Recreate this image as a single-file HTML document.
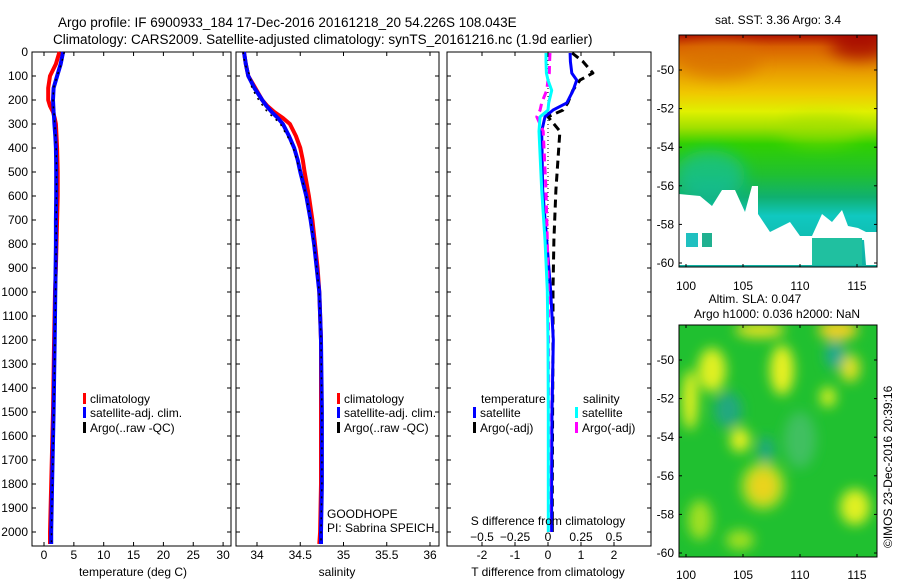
<!DOCTYPE html>
<html><head><meta charset="utf-8"><style>
html,body{margin:0;padding:0;background:#fff;width:900px;height:580px;overflow:hidden}
svg text{font-family:"Liberation Sans",sans-serif;fill:#000}
</style></head><body>
<svg id="fig" width="900" height="580" viewBox="0 0 900 580" xmlns="http://www.w3.org/2000/svg">
<defs>
<linearGradient id="sstg" x1="0" y1="0" x2="0" y2="1">
<stop offset="0" stop-color="#b01000"/><stop offset="0.05" stop-color="#d86000"/><stop offset="0.15" stop-color="#e89800"/><stop offset="0.25" stop-color="#f0c800"/><stop offset="0.33" stop-color="#e0f000"/><stop offset="0.4" stop-color="#a0e000"/><stop offset="0.47" stop-color="#30d000"/><stop offset="0.6" stop-color="#20c030"/><stop offset="0.7" stop-color="#10b070"/><stop offset="0.78" stop-color="#10c8c0"/><stop offset="1" stop-color="#10b0a0"/>
</linearGradient>
<filter id="blur"><feGaussianBlur stdDeviation="6"/></filter>
<filter id="blur2"><feGaussianBlur stdDeviation="8"/></filter>
<clipPath id="m1clip"><rect x="679" y="35" width="198" height="232"/></clipPath>
<clipPath id="m2clip"><rect x="679" y="325" width="198" height="232"/></clipPath>
</defs>
<text x="58" y="27" font-size="13.5">Argo profile: IF 6900933_184 17-Dec-2016 20161218_20 54.226S 108.043E</text>
<text x="53" y="44" font-size="13.5">Climatology: CARS2009. Satellite-adjusted climatology: synTS_20161216.nc (1.9d earlier)</text>
<g id="p1"></g>
<g id="p2"></g>
<g id="p3"></g>
<g id="m1">
<rect x="679" y="35" width="198" height="232" fill="url(#sstg)"/>
<g clip-path="url(#m1clip)" filter="url(#blur2)">
<ellipse cx="720" cy="60" rx="40" ry="18" fill="#d87000" opacity="0.7"/>
<ellipse cx="860" cy="45" rx="30" ry="14" fill="#a00000" opacity="0.8"/>
<ellipse cx="710" cy="175" rx="35" ry="25" fill="#10c0b0" opacity="0.6"/>
<ellipse cx="820" cy="130" rx="40" ry="15" fill="#a0e000" opacity="0.5"/>
</g>
<polygon fill="#fff" points="679,194 700,196 712,206 722,190 735,190 745,212 752,186 758,186 758,214 770,232 790,222 800,236 812,236 812,265 679,265"/>
<polygon fill="#fff" points="812,236 822,214 832,222 842,210 848,226 858,228 866,232 877,232 877,265 866,265 864,240 812,238"/>
<rect x="686" y="233" width="12" height="14" fill="#20c0c0"/>
<rect x="702" y="233" width="10" height="14" fill="#20b090"/>
<rect x="812" y="238" width="50" height="27" fill="#20c0a0"/>
</g>
<g id="m2">
<rect x="679" y="325" width="198" height="232" fill="#20c030"/>
<g clip-path="url(#m2clip)" filter="url(#blur)">
<ellipse cx="763" cy="486" rx="14" ry="16" fill="#f0a020"/>
<ellipse cx="763" cy="486" rx="22" ry="24" fill="#e8e820" opacity="0.7"/>
<ellipse cx="740" cy="440" rx="10" ry="12" fill="#e8f020"/>
<ellipse cx="782" cy="370" rx="12" ry="25" fill="#e8f020"/>
<ellipse cx="712" cy="370" rx="14" ry="22" fill="#e0f020"/>
<ellipse cx="690" cy="400" rx="8" ry="30" fill="#e0f020"/>
<ellipse cx="800" cy="440" rx="16" ry="28" fill="#40c060"/>
<ellipse cx="850" cy="368" rx="10" ry="14" fill="#e0e020"/>
<ellipse cx="838" cy="330" rx="20" ry="10" fill="#f0d020"/>
<ellipse cx="760" cy="330" rx="25" ry="8" fill="#e0e020"/>
<ellipse cx="728" cy="410" rx="14" ry="18" fill="#20a880"/>
<ellipse cx="766" cy="450" rx="8" ry="14" fill="#20a880"/>
<ellipse cx="835" cy="355" rx="10" ry="14" fill="#20a890"/>
<ellipse cx="855" cy="507" rx="15" ry="18" fill="#e0f020"/>
<ellipse cx="828" cy="397" rx="8" ry="10" fill="#d8f020"/>
<ellipse cx="700" cy="520" rx="12" ry="20" fill="#a0e020"/>
<ellipse cx="740" cy="540" rx="14" ry="10" fill="#a0e020"/>
</g>
</g>
<text x="778" y="24" font-size="12" text-anchor="middle">sat. SST: 3.36 Argo: 3.4</text>
<text x="755" y="303" font-size="12" text-anchor="middle">Altim. SLA: 0.047</text>
<text x="777" y="318" font-size="12" text-anchor="middle">Argo h1000: 0.036 h2000: NaN</text>
<text transform="translate(892,548) rotate(-90)" font-size="12">©IMOS 23-Dec-2016 20:39:16</text>
</svg>
<script>
// depth grid (m)
const depths=[0,50,100,150,200,225,250,275,300,350,400,450,500,600,700,800,900,1000,1200,1500,1800,2000,2050];
// temperature (deg C)
const tempClim=[2.6,2.0,1.0,0.7,0.7,1.0,1.5,1.8,2.0,2.1,2.2,2.25,2.3,2.3,2.2,2.1,2.0,1.85,1.7,1.5,1.2,1.0,1.0];
const tempSat=[3.2,2.8,2.2,1.6,1.5,1.55,1.6,1.7,1.75,1.9,2.0,2.03,2.05,2.05,2.0,2.0,1.95,1.9,1.8,1.6,1.35,1.2,1.2];
const tempArgo=[3.4,2.9,2.2,1.6,1.5,1.55,1.65,1.75,1.8,1.95,2.05,2.08,2.1,2.1,2.05,2.05,2.0,1.95,1.85,1.65,1.4,1.25,1.25];
// salinity
const salClim=[33.85,33.87,33.9,33.98,34.06,34.12,34.2,34.3,34.38,34.45,34.5,34.53,34.55,34.6,34.64,34.67,34.7,34.72,34.74,34.74,34.74,34.73,34.72];
const salSat=[33.85,33.87,33.9,33.97,34.06,34.11,34.17,34.24,34.3,34.37,34.43,34.47,34.5,34.57,34.62,34.66,34.69,34.72,34.74,34.75,34.75,34.74,34.74];
const salArgo=[33.84,33.86,33.92,33.94,34.02,34.07,34.12,34.2,34.27,34.35,34.42,34.46,34.5,34.57,34.62,34.66,34.69,34.72,34.74,34.75,34.75,34.74,34.74];
// differences
const diffDepths=[4,40,88,117,160,212,242,270,330,575,783,992,1200,1500,1800,2000];
const tDiffSat=[0.67,0.68,0.72,0.87,0.76,0.57,0.15,-0.09,-0.19,-0.16,-0.04,0.08,0.16,0.12,0.11,0.11];
const tDiffArgo=[0.73,1.06,1.36,0.97,0.75,0.6,0.45,0.0,0.36,0.24,0.18,0.15,0.15,0.14,0.13,0.13];
const sDiffSat=[-0.015,-0.015,-0.012,0.0,0.028,0.005,0.0,-0.06,-0.068,-0.048,-0.023,-0.005,0.0,0.002,0.002,0.002];
const sDiffArgo=[0.015,0.012,0.01,0.0,-0.01,-0.048,-0.06,-0.085,-0.036,-0.015,-0.005,0.002,0.004,0.006,0.006,0.006];
const depthTicks=[0,100,200,300,400,500,600,700,800,900,1000,1100,1200,1300,1400,1500,1600,1700,1800,1900,2000];
const tempTicks=[0,5,10,15,20,25,30];
const salTicks=[34,34.5,35,35.5,36];
const tTicks=[-2,-1,0,1,2];
const sTicks=[-0.5,-0.25,0,0.25,0.5];
const lonTicks=[100,105,110,115];
const latTicks=[-50,-52,-54,-56,-58,-60];

const NS='http://www.w3.org/2000/svg';
const Y0=52,DY=0.24,PB=546;
const yD=d=>Y0+DY*d;
const xT=v=>44+5.97*v;
const xS=v=>257+86.5*(v-34);
const xTd=v=>548+33*v;
const xSd=v=>548+132*v;
const xLon=v=>686+11.4*(v-100);
const yLat1=v=>70+19.3*(-50-v);
const yLat2=v=>360+19.3*(-50-v);
function mk(tag,attrs,parent,text){const e=document.createElementNS(NS,tag);for(const k in attrs)e.setAttribute(k,attrs[k]);if(text!==undefined)e.textContent=text;parent.appendChild(e);return e;}
function line(g,xs,ds,fx,color,w,dash,name){
  const pts=xs.map((v,i)=>fx(v).toFixed(1)+','+yD(ds[i]).toFixed(1)).join(' ');
  const p=mk('polyline',{points:pts,fill:'none',stroke:color,'stroke-width':w,'stroke-linejoin':'round'},g);
  if(dash)p.setAttribute('stroke-dasharray',dash);
  
  
}
function frame(g,x0,x1,name){
  const r=mk('rect',{x:x0,y:Y0,width:x1-x0,height:PB-Y0,fill:'none',stroke:'#000','stroke-width':1},g);
  
  
  depthTicks.forEach(d=>{mk('line',{x1:x0,x2:x0+4,y1:yD(d),y2:yD(d),stroke:'#000'},g);mk('line',{x1:x1-4,x2:x1,y1:yD(d),y2:yD(d),stroke:'#000'},g);});
}
function xticks(g,ticks,fx,labY,fs){
  ticks.forEach(v=>{const x=fx(v);mk('line',{x1:x,x2:x,y1:Y0,y2:Y0+4,stroke:'#000'},g);mk('line',{x1:x,x2:x,y1:PB-4,y2:PB,stroke:'#000'},g);
  const t=mk('text',{x:x,y:labY,'font-size':fs||12,'text-anchor':'middle'},g,String(v));
  
  });
}
function legend(g,x,y,color,label){
  mk('rect',{x:x,y:y-10,width:3,height:11,fill:color},g);
  const t=mk('text',{x:x+7,y:y,'font-size':12},g,label);
  
  
}
// Panel 1
const p1=document.getElementById('p1');
frame(p1,32,231,'temperature-axes');
depthTicks.forEach(d=>{const t=mk('text',{x:28,y:yD(d)+4,'font-size':12,'text-anchor':'end'},p1,String(d));

});
xticks(p1,tempTicks,xT,559);
line(p1,tempClim,depths,xT,'#ff0000',4,null,'temperature-climatology-line');
line(p1,tempSat,depths,xT,'#0000ff',4,null,'temperature-satellite-line');
line(p1,tempArgo,depths,xT,'#000',1.5,'2 5','temperature-argo-line');
const xl1=mk('text',{x:133,y:576,'font-size':12,'text-anchor':'middle'},p1,'temperature (deg C)');


legend(p1,83,403,'#ff0000','climatology');legend(p1,83,417,'#0000ff','satellite-adj. clim.');legend(p1,83,432,'#000','Argo(..raw -QC)');
// Panel 2
const p2=document.getElementById('p2');
frame(p2,236,439,'salinity-axes');
xticks(p2,salTicks,xS,559);
line(p2,salClim,depths,xS,'#ff0000',4,null,'salinity-climatology-line');
line(p2,salSat,depths,xS,'#0000ff',4,null,'salinity-satellite-line');
line(p2,salArgo,depths,xS,'#000',1.5,'2 5','salinity-argo-line');
const xl2=mk('text',{x:337,y:576,'font-size':12,'text-anchor':'middle'},p2,'salinity');


legend(p2,337,403,'#ff0000','climatology');legend(p2,337,417,'#0000ff','satellite-adj. clim.');legend(p2,337,432,'#000','Argo(..raw -QC)');
const gh=mk('text',{x:327,y:518,'font-size':12},p2,'GOODHOPE');


const pi=mk('text',{x:327,y:532,'font-size':12},p2,'PI: Sabrina SPEICH');


// Panel 3
const p3=document.getElementById('p3');
frame(p3,447,651,'difference-axes');
xticks(p3,tTicks,xTd,559);
sTicks.forEach(v=>{const t=mk('text',{x:xSd(v),y:541,'font-size':12,'text-anchor':'middle'},p3,String(v).replace('-','\u2212'));

});
mk('line',{x1:xTd(0),x2:xTd(0),y1:Y0,y2:yD(1000),stroke:'#000','stroke-dasharray':'1 3'},p3);
line(p3,tDiffArgo,diffDepths,xTd,'#000',3,'8 5','t-diff-argo-line');
line(p3,tDiffSat,diffDepths,xTd,'#0000ff',3,null,'t-diff-satellite-line');
line(p3,sDiffArgo,diffDepths,xSd,'#ff00ff',3,'8 5','s-diff-argo-line');
line(p3,sDiffSat,diffDepths,xSd,'#00ffff',3,null,'s-diff-satellite-line');
const st=mk('text',{x:548,y:525,'font-size':12,'text-anchor':'middle'},p3,'S difference from climatology');


const tt=mk('text',{x:548,y:576,'font-size':12,'text-anchor':'middle'},p3,'T difference from climatology');


const lt=mk('text',{x:481,y:403,'font-size':12},p3,'temperature');


const ls=mk('text',{x:583,y:403,'font-size':12},p3,'salinity');


legend(p3,473,417,'#0000ff','satellite');legend(p3,473,432,'#000','Argo(-adj)');
legend(p3,575,417,'#00ffff','satellite');legend(p3,575,432,'#ff00ff','Argo(-adj)');
// Map axes
function mapAxes(g,top,bot,fy,labY){
  mk('rect',{x:679,y:top,width:198,height:bot-top,fill:'none',stroke:'#000'},g);
  lonTicks.forEach(v=>{const x=xLon(v);mk('line',{x1:x,x2:x,y1:top,y2:top+3,stroke:'#000'},g);mk('line',{x1:x,x2:x,y1:bot-3,y2:bot,stroke:'#000'},g);
  const t=mk('text',{x:x,y:labY,'font-size':12,'text-anchor':'middle'},g,String(v));
  
  });
  latTicks.forEach(v=>{const y=fy(v);mk('line',{x1:679,x2:682,y1:y,y2:y,stroke:'#000'},g);mk('line',{x1:874,x2:877,y1:y,y2:y,stroke:'#000'},g);
  const t=mk('text',{x:674,y:y+4,'font-size':12,'text-anchor':'end'},g,String(v));
  
  });
}
mapAxes(document.getElementById('m1'),35,267,yLat1,290);
mapAxes(document.getElementById('m2'),325,557,yLat2,579);
</script>
</body></html>
